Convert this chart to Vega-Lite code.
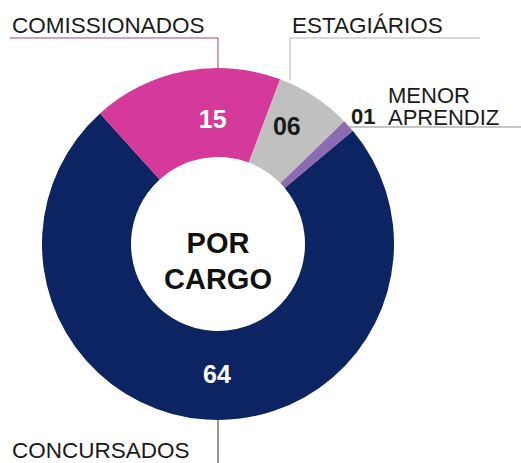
{
  "$schema": "https://vega.github.io/schema/vega-lite/v6.json",
  "width": 436,
  "height": 438,
  "autosize": {"type": "none"},
  "padding": {"left": 0, "top": 25, "right": 85, "bottom": 0},
  "background": "white",
  "config": {"view": {"stroke": null}, "text": {"font": "Liberation Sans"}},
  "data": {
    "values": [
      {"cargo": "CONCURSADOS", "n": 64, "ordem": 1},
      {"cargo": "COMISSIONADOS", "n": 15, "ordem": 2},
      {"cargo": "ESTAGIÁRIOS", "n": 6, "ordem": 3},
      {"cargo": "MENOR APRENDIZ", "n": 1, "ordem": 4}
    ]
  },
  "layer": [
    {
      "mark": {"type": "arc", "innerRadius": 87, "outerRadius": 176},
      "encoding": {
        "theta": {"field": "n", "type": "quantitative", "stack": true, "scale": {"range": [0.8727, 7.1559]}},
        "order": {"field": "ordem", "type": "quantitative"},
        "color": {"field": "cargo", "type": "nominal", "legend": null,
          "scale": {"domain": ["CONCURSADOS", "COMISSIONADOS", "ESTAGIÁRIOS", "MENOR APRENDIZ"],
                    "range": ["#0c2461", "#d5399a", "#c0c0c0", "#8c6cb0"]}}
      }
    },
    {
      "mark": {"type": "text", "radius": 131, "dx": 19, "dy": 5, "fontSize": 25, "fontWeight": "bold", "fill": "#ffffff", "align": "center", "baseline": "middle"},
      "encoding": {
        "theta": {"field": "n", "type": "quantitative", "stack": true},
        "order": {"field": "ordem", "type": "quantitative"},
        "text": {"condition": {"test": "datum.cargo === 'COMISSIONADOS'", "field": "n", "type": "quantitative", "format": "02d"}, "value": ""}
      }
    },
    {
      "mark": {"type": "text", "radius": 131, "dx": -3, "dy": -7, "fontSize": 25, "fontWeight": "bold", "fill": "#1a1a1a", "align": "center", "baseline": "middle"},
      "encoding": {
        "theta": {"field": "n", "type": "quantitative", "stack": true},
        "order": {"field": "ordem", "type": "quantitative"},
        "text": {"condition": {"test": "datum.cargo === 'ESTAGIÁRIOS'", "field": "n", "type": "quantitative", "format": "02d"}, "value": ""}
      }
    },
    {
      "mark": {"type": "text", "radius": 131, "dx": 8, "dy": 0, "fontSize": 25, "fontWeight": "bold", "fill": "#ffffff", "align": "center", "baseline": "middle"},
      "encoding": {
        "theta": {"field": "n", "type": "quantitative", "stack": true},
        "order": {"field": "ordem", "type": "quantitative"},
        "text": {"condition": {"test": "datum.cargo === 'CONCURSADOS'", "field": "n", "type": "quantitative", "format": "02d"}, "value": ""}
      }
    },
    {
      "mark": {"type": "text", "radius": 193, "dx": 2, "dy": 2, "fontSize": 22, "fontWeight": "bold", "fill": "#1a1a1a", "align": "center", "baseline": "middle"},
      "encoding": {
        "theta": {"field": "n", "type": "quantitative", "stack": true},
        "order": {"field": "ordem", "type": "quantitative"},
        "text": {"condition": {"test": "datum.cargo === 'MENOR APRENDIZ'", "field": "n", "type": "quantitative", "format": "02d"}, "value": ""}
      }
    },
    {
      "transform": [{"filter": "datum.cargo === 'COMISSIONADOS'"}],
      "mark": {"type": "rule", "stroke": "#a3457a", "strokeWidth": 1},
      "encoding": {
        "x": {"datum": -1.1818, "type": "quantitative", "scale": {"domain": [-1.23864, 1.23864], "nice": false, "zero": false}, "axis": null},
        "x2": {"datum": 0},
        "y": {"datum": 1.1705, "type": "quantitative", "scale": {"domain": [-1.24432, 1.24432], "nice": false, "zero": false}, "axis": null}
      }
    },
    {
      "transform": [{"filter": "datum.cargo === 'COMISSIONADOS'"}],
      "mark": {"type": "rule", "stroke": "#a3457a", "strokeWidth": 1},
      "encoding": {
        "x": {"datum": 0, "type": "quantitative", "scale": {"domain": [-1.23864, 1.23864], "nice": false, "zero": false}, "axis": null},
        "y": {"datum": 1.1705, "type": "quantitative", "scale": {"domain": [-1.24432, 1.24432], "nice": false, "zero": false}, "axis": null},
        "y2": {"datum": 1.0}
      }
    },
    {
      "transform": [{"filter": "datum.cargo === 'ESTAGIÁRIOS'"}],
      "mark": {"type": "rule", "stroke": "#b3b3b3", "strokeWidth": 1},
      "encoding": {
        "x": {"datum": 0.4091, "type": "quantitative", "scale": {"domain": [-1.23864, 1.23864], "nice": false, "zero": false}, "axis": null},
        "x2": {"datum": 1.4886},
        "y": {"datum": 1.1705, "type": "quantitative", "scale": {"domain": [-1.24432, 1.24432], "nice": false, "zero": false}, "axis": null}
      }
    },
    {
      "transform": [{"filter": "datum.cargo === 'ESTAGIÁRIOS'"}],
      "mark": {"type": "rule", "stroke": "#b3b3b3", "strokeWidth": 1},
      "encoding": {
        "x": {"datum": 0.4091, "type": "quantitative", "scale": {"domain": [-1.23864, 1.23864], "nice": false, "zero": false}, "axis": null},
        "y": {"datum": 1.1705, "type": "quantitative", "scale": {"domain": [-1.24432, 1.24432], "nice": false, "zero": false}, "axis": null},
        "y2": {"datum": 0.93}
      }
    },
    {
      "transform": [{"filter": "datum.cargo === 'MENOR APRENDIZ'"}],
      "mark": {"type": "rule", "stroke": "#8c8c8c", "strokeWidth": 1},
      "encoding": {
        "x": {"datum": 0.733, "type": "quantitative", "scale": {"domain": [-1.23864, 1.23864], "nice": false, "zero": false}, "axis": null},
        "x2": {"datum": 1.7216},
        "y": {"datum": 0.6648, "type": "quantitative", "scale": {"domain": [-1.24432, 1.24432], "nice": false, "zero": false}, "axis": null}
      }
    },
    {
      "transform": [{"filter": "datum.cargo === 'CONCURSADOS'"}],
      "mark": {"type": "rule", "stroke": "#333333", "strokeWidth": 1},
      "encoding": {
        "x": {"datum": 0, "type": "quantitative", "scale": {"domain": [-1.23864, 1.23864], "nice": false, "zero": false}, "axis": null},
        "y": {"datum": -1.0, "type": "quantitative", "scale": {"domain": [-1.24432, 1.24432], "nice": false, "zero": false}, "axis": null},
        "y2": {"datum": -1.244}
      }
    },
    {
      "transform": [{"filter": "datum.cargo === 'COMISSIONADOS'"}],
      "mark": {"type": "text", "fontSize": 22.5, "fill": "#1a1a1a", "align": "left", "baseline": "alphabetic"},
      "encoding": {
        "x": {"datum": -1.1705, "type": "quantitative", "scale": {"domain": [-1.23864, 1.23864], "nice": false, "zero": false}, "axis": null},
        "y": {"datum": 1.1989, "type": "quantitative", "scale": {"domain": [-1.24432, 1.24432], "nice": false, "zero": false}, "axis": null},
        "text": {"field": "cargo"}
      }
    },
    {
      "transform": [{"filter": "datum.cargo === 'ESTAGIÁRIOS'"}],
      "mark": {"type": "text", "fontSize": 22.5, "fill": "#1a1a1a", "align": "left", "baseline": "alphabetic"},
      "encoding": {
        "x": {"datum": 0.4205, "type": "quantitative", "scale": {"domain": [-1.23864, 1.23864], "nice": false, "zero": false}, "axis": null},
        "y": {"datum": 1.1989, "type": "quantitative", "scale": {"domain": [-1.24432, 1.24432], "nice": false, "zero": false}, "axis": null},
        "text": {"field": "cargo"}
      }
    },
    {
      "transform": [{"filter": "datum.cargo === 'MENOR APRENDIZ'"}],
      "mark": {"type": "text", "fontSize": 22, "fill": "#1a1a1a", "align": "left", "baseline": "alphabetic", "lineBreak": " ", "lineHeight": 22},
      "encoding": {
        "x": {"datum": 0.9659, "type": "quantitative", "scale": {"domain": [-1.23864, 1.23864], "nice": false, "zero": false}, "axis": null},
        "y": {"datum": 0.7983, "type": "quantitative", "scale": {"domain": [-1.24432, 1.24432], "nice": false, "zero": false}, "axis": null},
        "text": {"field": "cargo"}
      }
    },
    {
      "transform": [{"filter": "datum.cargo === 'CONCURSADOS'"}],
      "mark": {"type": "text", "fontSize": 22.5, "fill": "#1a1a1a", "align": "left", "baseline": "alphabetic"},
      "encoding": {
        "x": {"datum": -1.1705, "type": "quantitative", "scale": {"domain": [-1.23864, 1.23864], "nice": false, "zero": false}, "axis": null},
        "y": {"datum": -1.2159, "type": "quantitative", "scale": {"domain": [-1.24432, 1.24432], "nice": false, "zero": false}, "axis": null},
        "text": {"field": "cargo"}
      }
    },
    {
      "transform": [{"filter": "datum.ordem === 1"}],
      "mark": {"type": "text", "text": ["POR", "CARGO"], "fontSize": 29, "fontWeight": "bold", "fill": "#111111", "align": "center", "baseline": "middle", "lineHeight": 36},
      "encoding": {
        "x": {"datum": 0, "type": "quantitative", "scale": {"domain": [-1.23864, 1.23864], "nice": false, "zero": false}, "axis": null},
        "y": {"datum": 0, "type": "quantitative", "scale": {"domain": [-1.24432, 1.24432], "nice": false, "zero": false}, "axis": null}
      }
    }
  ]
}
